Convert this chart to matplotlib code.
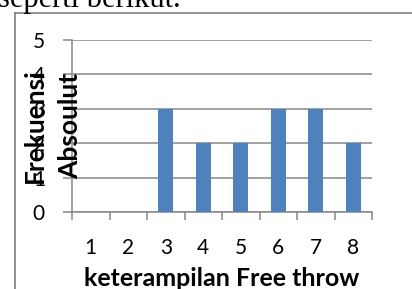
import matplotlib.pyplot as plt
from matplotlib.lines import Line2D

# data
kategori = [1, 2, 3, 4, 5, 6, 7, 8]
frekuensi = [0, 0, 3, 2, 2, 3, 3, 2]
y_ticks = [0, 1, 2, 3, 4, 5]

W, H = 412, 289
DPI = 100
abu = '#878787'
biru = '#4F81BD'
huruf = 'Lato'

fig = plt.figure(figsize=(W / DPI, H / DPI), dpi=DPI)

def fx(px):
    return px / W

def fy(py):
    return 1 - py / H

# axes placed in pixel coords of the reference
ax = fig.add_axes([fx(72), fy(212), fx(372) - fx(72), fy(40) - fy(212)])
ax.bar(kategori, frekuensi, width=0.4, color=biru, zorder=3)
ax.set_xlim(0.5, 8.5)
ax.set_ylim(0, 5)

ax.set_yticks(y_ticks)
ax.yaxis.grid(True, color=abu, linewidth=1.1)
ax.set_axisbelow(True)
ax.tick_params(axis='y', direction='out', length=6.5, width=1.1, color=abu,
               pad=13, labelsize=15)

# category boundaries get tick marks, labels sit in between
ax.set_xticks([k + 0.5 for k in [0] + kategori])
ax.set_xticklabels([])
ax.set_xticks(kategori, minor=True)
ax.set_xticklabels([str(k) for k in kategori], minor=True)
ax.tick_params(axis='x', which='major', direction='out', length=5.8, width=1.1, color=abu)
ax.tick_params(axis='x', which='minor', length=0, pad=19, labelsize=15)

for lab in ax.get_xticklabels(minor=True) + ax.get_yticklabels():
    lab.set_fontfamily(huruf)

for s in ['top', 'right']:
    ax.spines[s].set_visible(False)
for s in ['left', 'bottom']:
    ax.spines[s].set_color(abu)
    ax.spines[s].set_linewidth(1.1)

# axis titles
fig.text(fx(222), fy(278), 'keterampilan Free throw', ha='center', va='center',
         fontsize=18, fontweight='bold', family=huruf)
fig.text(fx(35), fy(126), 'Frekuensi', rotation=90, ha='center', va='center',
         fontsize=19, fontweight='bold', family=huruf)
fig.text(fx(70), fy(126), 'Absoulut', rotation=90, ha='center', va='center',
         fontsize=19, fontweight='bold', family=huruf)

# chart frame and the document line above it
fig.add_artist(Line2D([fx(15), fx(15)], [fy(12.7), 0], color='#7f7f7f', linewidth=1.2))
fig.add_artist(Line2D([fx(15), 1], [fy(12.7), fy(12.7)], color='#7f7f7f', linewidth=1.2))
fig.text(fx(-2), fy(7), 'seperti berikut.', ha='left', va='baseline',
         fontsize=22, family='Liberation Serif')

fig.savefig('out.png', dpi=DPI)
